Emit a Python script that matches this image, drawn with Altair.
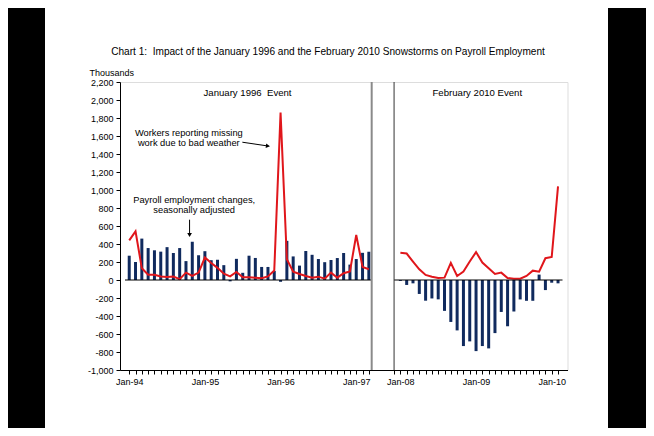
import altair as alt
import pandas as pd

# ---------------- data ----------------
months_1996 = ["Jan-94","Feb-94","Mar-94","Apr-94","May-94","Jun-94","Jul-94","Aug-94","Sep-94","Oct-94","Nov-94","Dec-94",
               "Jan-95","Feb-95","Mar-95","Apr-95","May-95","Jun-95","Jul-95","Aug-95","Sep-95","Oct-95","Nov-95","Dec-95",
               "Jan-96","Feb-96","Mar-96","Apr-96","May-96","Jun-96","Jul-96","Aug-96","Sep-96","Oct-96","Nov-96","Dec-96",
               "Jan-97","Feb-97","Mar-97"]
payroll_1996 = [270, 200, 460, 355, 330, 315, 365, 300, 355, 210, 425, 275,
                320, 220, 225, 165, -15, 235, 80, 270, 245, 145, 145, 100,
                -20, 435, 262, 160, 322, 280, 233, 198, 222, 244, 300, 171,
                233, 302, 314]
weather_1996 = [440, 540, 130, 58, 58, 38, 32, 38, 10, 82, 46, 82,
                250, 188, 135, 70, 40, 90, 30, 30, 25, 20, 40, 105,
                1860, 230, 93, 67, 45, 25, 37, 15, 82, 26, 75, 95,
                500, 145, 120]

months_2010 = ["Jan-08","Feb-08","Mar-08","Apr-08","May-08","Jun-08","Jul-08","Aug-08","Sep-08","Oct-08","Nov-08","Dec-08",
               "Jan-09","Feb-09","Mar-09","Apr-09","May-09","Jun-09","Jul-09","Aug-09","Sep-09","Oct-09","Nov-09","Dec-09",
               "Jan-10","Feb-10"]
payroll_2010 = [-10, -55, -37, -155, -230, -205, -215, -343, -466, -560, -734, -682,
                -790, -734, -760, -590, -355, -514, -350, -216, -231, -231, 60, -112,
                -30, -37]
weather_2010 = [302, 294, 205, 119, 56, 37, 22, 26, 190, 45, 93, 205,
                310, 194, 130, 67, 82, 22, 15, 15, 45, 104, 93, 242,
                257, 1040]

panel_titles = ["January 1996\u00a0 Event", "February 2010 Event"]
chart_title = "Chart 1:\u00a0 Impact of the January 1996 and the February 2010 Snowstorms on Payroll Employment"
x_labels = ["Jan-94", "Jan-95", "Jan-96", "Jan-97", "Jan-08", "Jan-09", "Jan-10"]
y_ticks = list(range(-1000, 2201, 200))

# ---------------- layout helpers ----------------
OFFSET2 = 43            # slot where the 2010 panel starts
X_MIN, X_MAX = -0.67, 68.71
SEP1, SEP2 = 38.45, 42  # panel separators
NAVY = "#102a5e"
RED = "#e0161b"
FONT = "Liberation Sans"

rows = []
for i, m in enumerate(months_1996):
    rows.append({"slot": i, "month": m, "panel": "1996", "payroll": payroll_1996[i], "weather": weather_1996[i]})
for j, m in enumerate(months_2010):
    rows.append({"slot": OFFSET2 + j, "month": m, "panel": "2010", "payroll": payroll_2010[j], "weather": weather_2010[j]})
df = pd.DataFrame(rows)

label_slots = {r["slot"]: r["month"] for r in rows if r["month"] in x_labels}
label_expr = " : ".join([f"datum.value == {s} ? '{l}'" for s, l in label_slots.items()]) + " : ''"
tick_values = list(range(0, 39)) + [SEP2] + list(range(OFFSET2, OFFSET2 + len(months_2010)))

xs = alt.Scale(domain=[X_MIN, X_MAX], nice=False, zero=False)
ys = alt.Scale(domain=[-1000, 2200], nice=False, zero=False)

X_AXIS = alt.Axis(
    values=tick_values, labelExpr=label_expr, title=None, grid=False,
    tickSize=4, tickColor="black", domainColor="black", labelOverlap=False,
    labelFlush=False, labelFont=FONT, labelFontSize=9, labelColor="black", labelPadding=3)
Y_AXIS = alt.Axis(
    values=y_ticks, labelExpr="(datum.value < 0 ? '-' : '') + format(abs(datum.value), ',.0f')",
    title="Thousands", titleAngle=0, titleX=-31, titleY=-10,
    titleAlign="left", titleBaseline="middle", titleFont=FONT, titleFontSize=9,
    titleFontWeight="normal", titleColor="black", grid=False, tickSize=4,
    tickColor="black", domainColor="black", labelFont=FONT, labelFontSize=9,
    labelColor="black", labelPadding=3, labelOverlap=False, labelFlush=False)


def qx(field):
    return alt.X(field, type="quantitative", scale=xs, axis=X_AXIS)


def qy(field):
    return alt.Y(field, type="quantitative", scale=ys, axis=Y_AXIS)


base = alt.Chart(df)

bars = base.mark_bar(size=3, color=NAVY).encode(x=qx("slot"), y=qy("payroll"), y2=alt.datum(0))
lines = base.mark_line(color=RED, strokeWidth=2).encode(
    x=qx("slot"), y=qy("weather"), detail="panel:N")

zero_df = pd.DataFrame({"x1": [X_MIN, SEP2], "x2": [SEP1, X_MAX], "y": [0, 0]})
zero = alt.Chart(zero_df).mark_rule(color="black", strokeWidth=1).encode(
    x=qx("x1"), x2="x2:Q", y=qy("y"))

sep_df = pd.DataFrame({"x": [SEP1, SEP2], "c": ["#8a8a8a", "#333333"], "w": [2, 1],
                       "y1": [-1000, -1000], "y2": [2200, 2200]})
seps = alt.Chart(sep_df).mark_rule().encode(
    x=qx("x"), y=qy("y1"), y2="y2:Q",
    color=alt.Color("c:N", scale=None), strokeWidth=alt.StrokeWidth("w:Q", scale=None))

ptitle_df = pd.DataFrame({"x": [18.76, 55.2], "y": [2078, 2078], "t": panel_titles})
ptitles = alt.Chart(ptitle_df).mark_text(font=FONT, fontSize=9.6, color="black", baseline="middle").encode(
    x=qx("x"), y=qy("y"), text="t:N")

ann_df = pd.DataFrame({
    "x": [9.45, 9.45, 10.3, 10.3],
    "y": [1631, 1520, 894, 777],
    "t": ["Workers reporting missing", "work due to bad weather",
          "Payroll employment changes,", "seasonally adjusted"]})
ann = alt.Chart(ann_df).mark_text(font=FONT, fontSize=9.3, color="black", baseline="middle").encode(
    x=qx("x"), y=qy("y"), text="t:N")

arrow_df = pd.DataFrame({"x1": [17.94, 9.57], "y1": [1531, 670], "x2": [21.9, 9.57], "y2": [1490, 510]})
arrow_lines = alt.Chart(arrow_df).mark_rule(color="black", strokeWidth=1).encode(
    x=qx("x1"), y=qy("y1"), x2="x2:Q", y2="y2:Q")
head_df = pd.DataFrame({"x": [22.0, 9.57], "y": [1489, 500], "shape": ["triangle-right", "triangle-down"], "a": [7, 0]})
heads = alt.Chart(head_df).mark_point(filled=True, color="black", opacity=1, size=22).encode(
    x=qx("x"), y=qy("y"),
    shape=alt.Shape("shape:N", scale=None), angle=alt.Angle("a:Q", scale=None))

# chart title as a text mark (kept clear of the page decoration bounds)
title_df = pd.DataFrame({"t": [chart_title]})
title = alt.Chart(title_df).mark_text(font=FONT, fontSize=10.1, color="black", baseline="middle", align="center").encode(
    x=alt.value(208), y=alt.value(-30), text="t:N")

# black side panels of the slide (page decoration)
side_df = pd.DataFrame({"k": [0]})
left_black = alt.Chart(side_df).mark_rect(color="black").encode(
    x=alt.value(-120), x2=alt.value(-75), y=alt.value(-90), y2=alt.value(360))
right_black = alt.Chart(side_df).mark_rect(color="black").encode(
    x=alt.value(488), x2=alt.value(540), y=alt.value(-90), y2=alt.value(360))

chart = alt.layer(
    left_black, right_black, bars, lines, zero, seps, ptitles, ann, arrow_lines, heads, title
).properties(
    width=447.5, height=288,
    autosize=alt.AutoSizeParams(type="none"),
    padding={"left": 112, "top": 74, "right": 78.5, "bottom": 58},
).configure_view(stroke="#8a8a8a", strokeWidth=1).configure(background="white")

chart.save("out.html", embed_options={"renderer": "svg", "actions": False})
